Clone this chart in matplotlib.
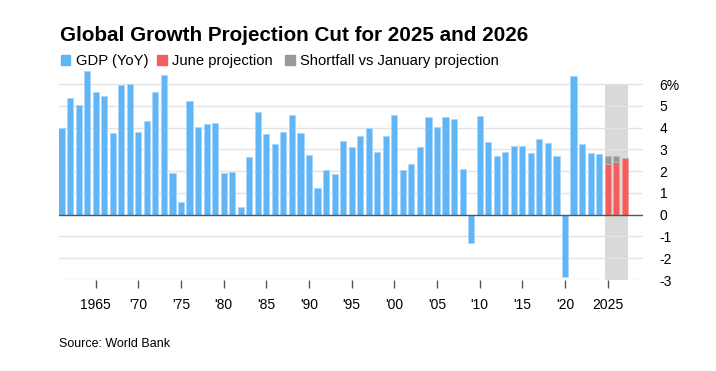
import matplotlib
matplotlib.use("Agg")
import matplotlib.pyplot as plt
from matplotlib.patches import Rectangle

plt.rcParams["font.family"] = ["Liberation Sans", "DejaVu Sans"]

# GDP (YoY), 1961-2024
years = list(range(1961, 2025))
gdp = [
    4.0, 5.35, 5.05, 6.6, 5.63, 5.46, 3.76, 5.96, 6.0, 3.78,
    4.3, 5.63, 6.44, 1.93, 0.58, 5.21, 4.04, 4.19, 4.22, 1.9,
    1.96, 0.37, 2.66, 4.71, 3.73, 3.26, 3.79, 4.59, 3.75, 2.74,
    1.24, 2.05, 1.87, 3.38, 3.12, 3.61, 3.98, 2.87, 3.61, 4.56,
    2.05, 2.32, 3.12, 4.48, 4.04, 4.48, 4.39, 2.08, -1.32, 4.54,
    3.36, 2.71, 2.89, 3.15, 3.15, 2.83, 3.47, 3.30, 2.69, -2.86,
    6.38, 3.26, 2.84, 2.81,
]

# projections
proj_years = [2025, 2026, 2027]
june_proj = [2.31, 2.42, 2.61]
jan_proj = [2.72, 2.72, 2.61]

tick_years = [1965, 1970, 1975, 1980, 1985, 1990, 1995, 2000, 2005, 2010, 2015, 2020, 2025]
tick_labels = ["1965", "'70", "'75", "'80", "'85", "'90", "'95", "'00", "'05", "'10", "'15", "'20", "2025"]
y_ticks = [-3, -2, -1, 0, 1, 2, 3, 4, 5, 6]

blue = "#60b5f7"
red = "#f45d5d"
gray = "#999999"

W, H = 716, 371
fig = plt.figure(figsize=(W / 100, H / 100), dpi=100)
ax = fig.add_axes([59 / W, 91 / H, 584 / W, 215 / H])

ax.fill_between([2024.69, 2027.38], -3, 6, color="#d9d9d9", zorder=0, linewidth=0)

for y in y_ticks:
    if y != 0:
        ax.axhline(y, color="#e3e3e3", linewidth=1, zorder=0.5)

w = 0.72
ax.bar(years, gdp, width=w, color=blue, edgecolor="#a9d6fa", linewidth=0.6, zorder=2)
shortfall = [j - p for j, p in zip(jan_proj, june_proj)]
ax.bar(proj_years, june_proj, width=w, color=red, edgecolor="#f89a9a", linewidth=0.6, zorder=2)
ax.bar(proj_years, shortfall, bottom=june_proj, width=w, color=gray,
       edgecolor="#bdbdbd", linewidth=0.6, zorder=2)

ax.axhline(0, color="#555555", linewidth=1, zorder=3)

ax.set_xlim(1960.70, 2029.14)
ax.set_ylim(-3, 6.88)

for s in ax.spines.values():
    s.set_visible(False)

ax.set_xticks(tick_years)
ax.set_xticklabels(tick_labels, fontsize=10)
ax.tick_params(axis="x", direction="out", length=6, width=1, color="#555555", pad=7)

ax.yaxis.tick_right()
ax.set_yticks(y_ticks)
ax.set_yticklabels([f"{v}%" if v == 6 else str(v) for v in y_ticks], fontsize=10, ha="left")
ax.tick_params(axis="y", length=0, pad=12)

fig.text(60 / W, 1 - 41 / H, "Global Growth Projection Cut for 2025 and 2026",
         fontsize=14.9, fontweight="bold", ha="left", va="baseline")

# legend row, placed by hand
legend_items = [(61, blue, "GDP (YoY)"), (157, red, "June projection"),
                (285, gray, "Shortfall vs January projection")]
for x0, c, label in legend_items:
    fig.patches.append(Rectangle((x0 / W, 1 - 64.5 / H), 9.5 / W, 9.5 / H,
                                 transform=fig.transFigure, color=c, figure=fig))
    fig.text((x0 + 15.5) / W, 1 - 64.5 / H, label, fontsize=10.6, ha="left", va="baseline")

fig.text(59 / W, 1 - 347 / H, "Source: World Bank", fontsize=9, ha="left", va="baseline")

fig.savefig("out.png", dpi=100)
